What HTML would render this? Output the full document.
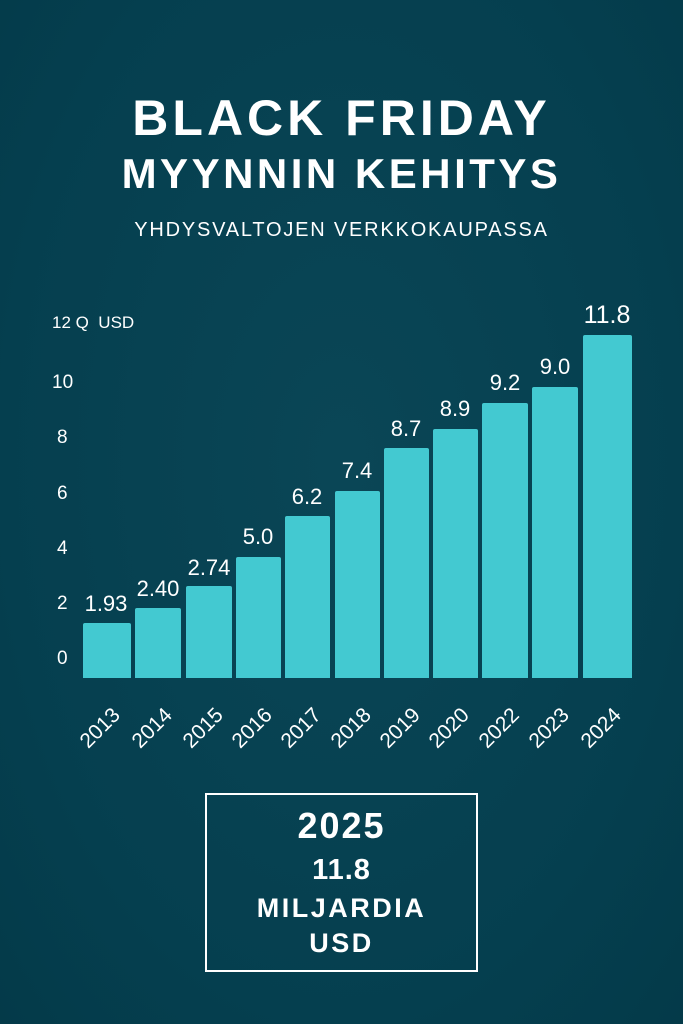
<!DOCTYPE html>
<html><head><meta charset="utf-8"><style>
body{margin:0;width:683px;height:1024px;overflow:hidden;background:radial-gradient(ellipse at 50% 45%,#0a4656,#053f4f 70%,#043a49);font-family:"Liberation Sans","DejaVu Sans",sans-serif;color:#fff;position:relative}
.t{position:absolute;left:0;width:683px;text-align:center;font-weight:bold}
.bar{position:absolute;background:#43c9d1;border-radius:2px 2px 0 0;bottom:346px}
.v{position:absolute;font-size:22px;text-align:center;width:80px;margin-left:-40px}
.y{position:absolute;font-size:19px;left:57px}
.x{position:absolute;font-size:21px;transform:rotate(-45deg);transform-origin:right center;text-align:right;width:60px}
.box{position:absolute;left:205px;top:793px;width:269px;height:175px;border:2px solid #fff}
</style></head><body>
<div class="t" style="top:89px;font-size:50px;letter-spacing:4px">BLACK FRIDAY</div>
<div class="t" style="top:150px;font-size:42px;letter-spacing:3.5px">MYYNNIN KEHITYS</div>
<div class="t" style="top:219px;font-size:20px;font-weight:normal;letter-spacing:1.8px">YHDYSVALTOJEN VERKKOKAUPASSA</div>
<div class="y" style="top:313px;left:52px;font-size:17px">12 Q &nbsp;USD</div>
<div class="y" style="top:372px;left:52px">10</div>
<div class="y" style="top:427px">8</div>
<div class="y" style="top:483px">6</div>
<div class="y" style="top:538px">4</div>
<div class="y" style="top:593px">2</div>
<div class="y" style="top:648px">0</div>
<div class="bar" style="left:83px;width:48px;top:623px"></div>
<div class="bar" style="left:135px;width:46px;top:608px"></div>
<div class="bar" style="left:186px;width:46px;top:586px"></div>
<div class="bar" style="left:236px;width:45px;top:557px"></div>
<div class="bar" style="left:285px;width:45px;top:516px"></div>
<div class="bar" style="left:335px;width:45px;top:491px"></div>
<div class="bar" style="left:384px;width:45px;top:448px"></div>
<div class="bar" style="left:433px;width:45px;top:429px"></div>
<div class="bar" style="left:482px;width:46px;top:403px"></div>
<div class="bar" style="left:532px;width:46px;top:387px"></div>
<div class="bar" style="left:583px;width:49px;top:335px"></div>
<div class="v" style="left:106px;top:591px">1.93</div>
<div class="v" style="left:158px;top:576px">2.40</div>
<div class="v" style="left:209px;top:555px">2.74</div>
<div class="v" style="left:258px;top:524px">5.0</div>
<div class="v" style="left:307px;top:484px">6.2</div>
<div class="v" style="left:357px;top:458px">7.4</div>
<div class="v" style="left:406px;top:416px">8.7</div>
<div class="v" style="left:455px;top:396px">8.9</div>
<div class="v" style="left:505px;top:370px">9.2</div>
<div class="v" style="left:555px;top:354px">9.0</div>
<div class="v" style="left:607px;top:301px;font-size:25px">11.8</div>
<div class="x" style="left:57px;top:700px">2013</div>
<div class="x" style="left:109px;top:700px">2014</div>
<div class="x" style="left:160px;top:700px">2015</div>
<div class="x" style="left:209px;top:700px">2016</div>
<div class="x" style="left:258px;top:700px">2017</div>
<div class="x" style="left:308px;top:700px">2018</div>
<div class="x" style="left:357px;top:700px">2019</div>
<div class="x" style="left:406px;top:700px">2020</div>
<div class="x" style="left:456px;top:700px">2022</div>
<div class="x" style="left:506px;top:700px">2023</div>
<div class="x" style="left:558px;top:700px">2024</div>
<div class="box"></div>
<div class="t" style="top:805px;font-size:36px;letter-spacing:2px">2025</div>
<div class="t" style="top:854px;font-size:29px;letter-spacing:1px">11.8</div>
<div class="t" style="top:893px;font-size:27px;letter-spacing:2.5px">MILJARDIA</div>
<div class="t" style="top:928px;font-size:27px;letter-spacing:2.5px">USD</div>
</body></html>
